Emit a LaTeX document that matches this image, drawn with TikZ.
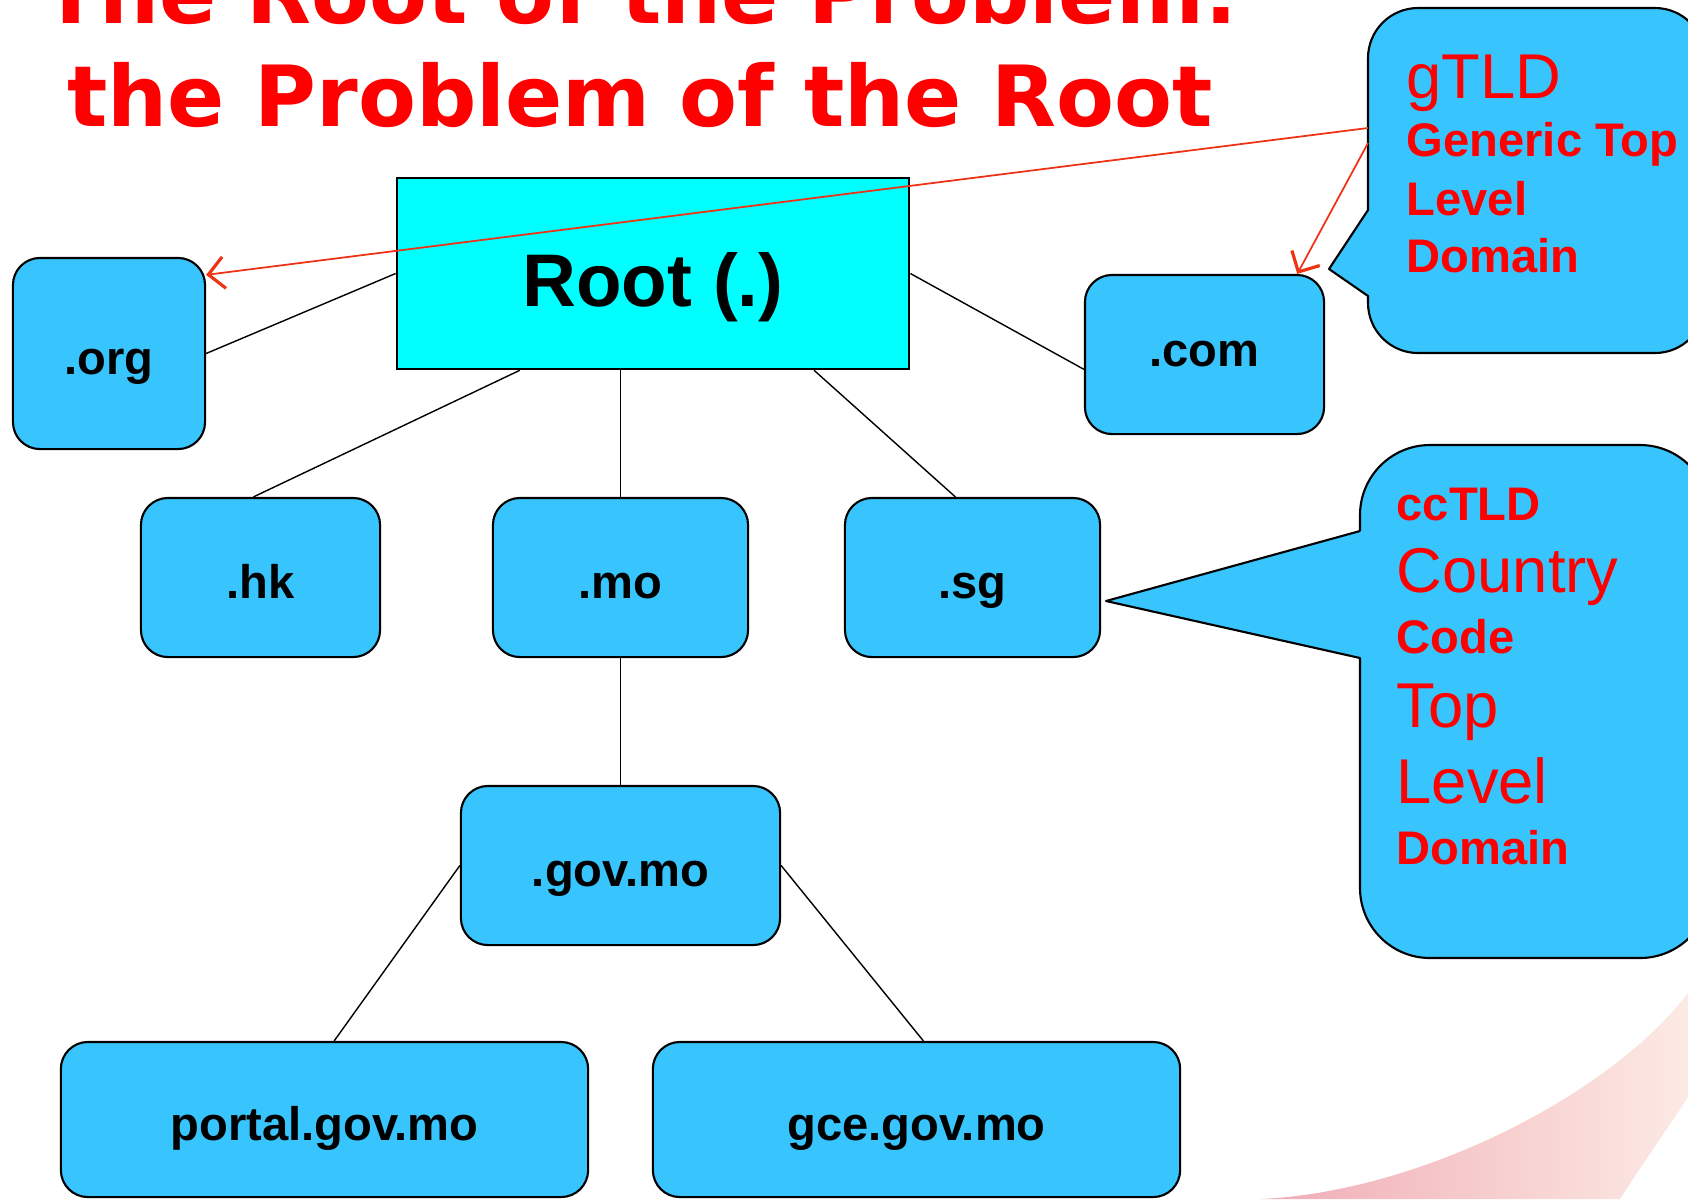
\documentclass[tikz,border=0pt]{standalone}
\usepackage{fontspec}
\setmainfont{Liberation Sans}
\newfontfamily\titlefont{DejaVu Sans}
\usetikzlibrary{arrows.meta}
\definecolor{tldblue}{RGB}{56,196,252}
\definecolor{rootcyan}{RGB}{0,255,255}
\definecolor{notered}{RGB}{255,0,0}
\definecolor{pointred}{RGB}{240,50,20}
\definecolor{swooshpink}{RGB}{240,172,182}
\definecolor{swooshlight}{RGB}{252,234,228}

\begin{document}
\begin{tikzpicture}[x=0.01cm, y=-0.01cm,
    tld/.style={draw, line width=0.6pt, fill=tldblue, rounded corners=2.7mm, inner sep=0pt,
        minimum width=#1, minimum height=15.9mm, text height=12pt, text depth=0pt,
        font=\fontsize{13.4}{16}\selectfont\bfseries},
    tld/.default=23.9mm,
    link/.style={line width=0.4pt},
    bubble/.style={draw, line width=0.6pt, fill=tldblue, line join=round},
    headline/.style={anchor=base, inner sep=0pt, text=notered, font=\titlefont\bfseries\fontsize{24}{28}\selectfont},
    bigred/.style={anchor=base west, inner sep=0pt, text=notered, font=\fontsize{18}{20}\selectfont},
    boldred/.style={anchor=base west, inner sep=0pt, text=notered, font=\fontsize{13.4}{16}\selectfont\bfseries},
    pointer/.style={pointred, line width=0.5pt, -{Straight Barb[length=4.5pt,width=9pt,line width=0.9pt]}}]
    \useasboundingbox (0,0) rectangle (1688,1199);
    \clip (0,0) rectangle (1688,1199);

    \shade[left color=swooshpink, right color=swooshlight] (1688,993) .. controls (1610,1095) and (1420,1192) .. (1260,1199)
        -- (1620,1199) .. controls (1645,1160) and (1668,1128) .. (1688,1097) -- cycle;

    \node[headline] (title1) at (640,23) {The Root of the Problem:};
    \node[headline] (title2) at (640,126) {the Problem of the Root};

    \node[draw, line width=0.7pt, fill=rootcyan, minimum width=51.2mm, minimum height=19.1mm,
        text height=19pt, text depth=0pt, font=\fontsize{21.2}{24}\selectfont\bfseries] (root) at (653,273.5) {Root (.)};
    \node[tld=19.2mm, minimum height=19.1mm] (org) at (109,353.5) {.org};
    \node[tld, text height=6.8pt] (com) at (1204.5,354.5) {.com\hspace{6mm}};
    \node[tld] (hk) at (260.5,577.5) {.hk};
    \node[tld=25.5mm] (mo) at (620.5,577.5) {.mo};
    \node[tld=25.5mm] (sg) at (972.5,577.5) {.sg};
    \node[tld=31.9mm] (govmo) at (620.5,865.5) {.gov.mo};
    \node[tld=52.7mm, minimum height=15.5mm] (portal) at (324.5,1119.5) {portal.gov.mo};
    \node[tld=52.7mm, minimum height=15.5mm] (gce) at (916.5,1119.5) {gce.gov.mo};

    \draw[link] (root.west) -- (org.east);
    \draw[link] (root.east) -- (com.187);
    \draw[link] (root.216) -- (hk.95);
    \draw[link] (mo.north) -- (mo.north |- root.south);
    \draw[link] (root.-31) -- (sg.102);
    \draw[link] (mo.south) -- (govmo.north);
    \draw[link] (govmo.west) -- (portal.83);
    \draw[link] (govmo.east) -- (gce.85);

    \draw[bubble] (1368,210) -- (1329,269) -- (1368,296) -- (1368,300) [rounded corners=5mm]
        -- (1368,353) -- (1705,353) -- (1705,8) -- (1368,8) -- (1368,210);
    \draw[bubble] (1360,531) -- (1106,601) -- (1360,658) -- (1360,662) [rounded corners=7mm]
        -- (1360,958) -- (1710,958) -- (1710,445) -- (1360,445) -- (1360,531);

    \coordinate (gtldA) at (1368,128);
    \coordinate (gtldB) at (1368,143);
    \draw[pointer] (gtldA) -- (org.39);
    \draw[pointer] (gtldB) -- (com.41);

    \node[bigred] (gtld) at (1406,98) {gTLD};
    \node[boldred] (generic) at (1406,156) {Generic Top};
    \node[boldred] (glevel) at (1406,215) {Level};
    \node[boldred] (gdomain) at (1406,272) {Domain};

    \node[boldred] (cctld) at (1396,520) {ccTLD};
    \node[bigred] (country) at (1396,592) {Country};
    \node[boldred] (code) at (1396,653) {Code};
    \node[bigred] (top) at (1396,727) {Top};
    \node[bigred] (level) at (1396,803) {Level};
    \node[boldred] (domain) at (1396,864) {Domain};
\end{tikzpicture}
\end{document}
